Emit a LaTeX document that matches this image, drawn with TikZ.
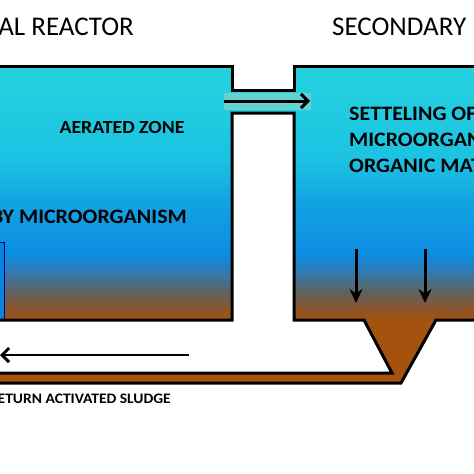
\documentclass[tikz,border=0pt]{standalone}
\usepackage{fontspec}
\setmainfont{Carlito}
\newfontfamily\boldlab{Carlito}[FakeStretch=1.07]
\usetikzlibrary{arrows.meta}
\definecolor{cyantop}{HTML}{24D3DE}
\definecolor{cyanmid}{HTML}{1CC2E2}
\definecolor{bluemid}{HTML}{0C8DE2}
\definecolor{blueline}{HTML}{2A7DBA}
\definecolor{greymud}{HTML}{62625E}
\definecolor{mudbrown}{HTML}{8C5428}
\definecolor{sludge}{HTML}{A4520E}
\definecolor{pipeband}{HTML}{62D3D0}
\definecolor{sidepipe}{HTML}{0A84DA}
\pgfdeclareverticalshading{tankshade}{100bp}{%
 color(0bp)=(sludge); color(25bp)=(sludge); color(27bp)=(mudbrown);
 color(30.5bp)=(greymud); color(35bp)=(blueline); color(38bp)=(bluemid);
 color(48bp)=(bluemid!60!cyanmid); color(56.5bp)=(cyanmid); color(75bp)=(cyantop);
 color(100bp)=(cyantop)}
\tikzset{
 wall/.style={line width=3pt, line join=miter},
 tankfill/.style={shading=tankshade, draw=none},
 title/.style={font=\fontsize{27}{27}\selectfont, inner sep=0pt},
 label/.style={font=\boldlab\bfseries\fontsize{18.5}{26}\selectfont, inner sep=0pt, align=left},
 biglabel/.style={font=\boldlab\bfseries\fontsize{20.5}{26}\selectfont, inner sep=0pt, align=left},
 small/.style={font=\boldlab\bfseries\fontsize{14.5}{14.5}\selectfont, inner sep=0pt},
 flow/.style={line width=3pt, -{Straight Barb[length=7pt,width=14pt,line width=3pt]}},
 settle/.style={line width=3pt, -{Stealth[length=14pt,width=13pt]}},
}
\begin{document}
\begin{tikzpicture}[x=1pt,y=-1pt]
\useasboundingbox (0,0) rectangle (474,474);
\fill[white] (0,0) rectangle (474,474);
\clip (0,0) rectangle (474,474);
% tanks
\path[tankfill] (-10,66) rectangle (232,320);
\path[tankfill] (294,66) rectangle (490,320);
\fill[cyantop] (232,90) rectangle (294,113);
% side pipe in left tank
\draw[draw=blue!50!black, line width=1pt, fill=sidepipe] (-10,242) rectangle (4,320);
% hopper and return pipe
\fill[sludge] (364,320) -- (436,320) -- (401,383) -- (-10,383) -- (-10,373) -- (392,373) -- cycle;
% walls
\draw[wall] (-10,66) -- (232,66) -- (232,90) -- (294,90) -- (294,66) -- (490,66);
\draw[wall] (-10,320) -- (232,320) -- (232,113) -- (294,113) -- (294,320) -- (364,320) -- (392,373) -- (-10,373);
\draw[wall] (490,320) -- (436,320) -- (401,383) -- (-10,383);
% flow between tanks
\fill[pipeband] (224,93) rectangle (311,110);
\coordinate (pA) at (224,101);
\coordinate (pB) at (310,101);
\draw[flow] (pA) -- (pB);
% settling arrows
\coordinate (s1a) at (356,249); \coordinate (s1b) at (356,303);
\coordinate (s2a) at (425,249); \coordinate (s2b) at (425,303);
\draw[settle] (s1a) -- (s1b);
\draw[settle] (s2a) -- (s2b);
% return arrow
\coordinate (rA) at (189,355);
\coordinate (rB) at (0,355);
\draw[flow, line width=2.5pt] (rA) -- (rB);
% texts
\node[title, anchor=base east] (t1) at (134,35.5) {AL REACTOR};
\node[title, anchor=base west] (t2) at (332,35.5) {SECONDARY};
\node[label, anchor=base] (az) at (122,133.3) {AERATED ZONE};
\node[biglabel, anchor=base east] (bm) at (187,223) {BY MICROORGANISM};
\node[biglabel, anchor=base west] (st) at (349,172) {SETTELING OF\\MICROORGAN\\ORGANIC MAT};
\node[small, anchor=base east] (ras) at (171,403) {ETURN ACTIVATED SLUDGE};
\end{tikzpicture}
\end{document}
